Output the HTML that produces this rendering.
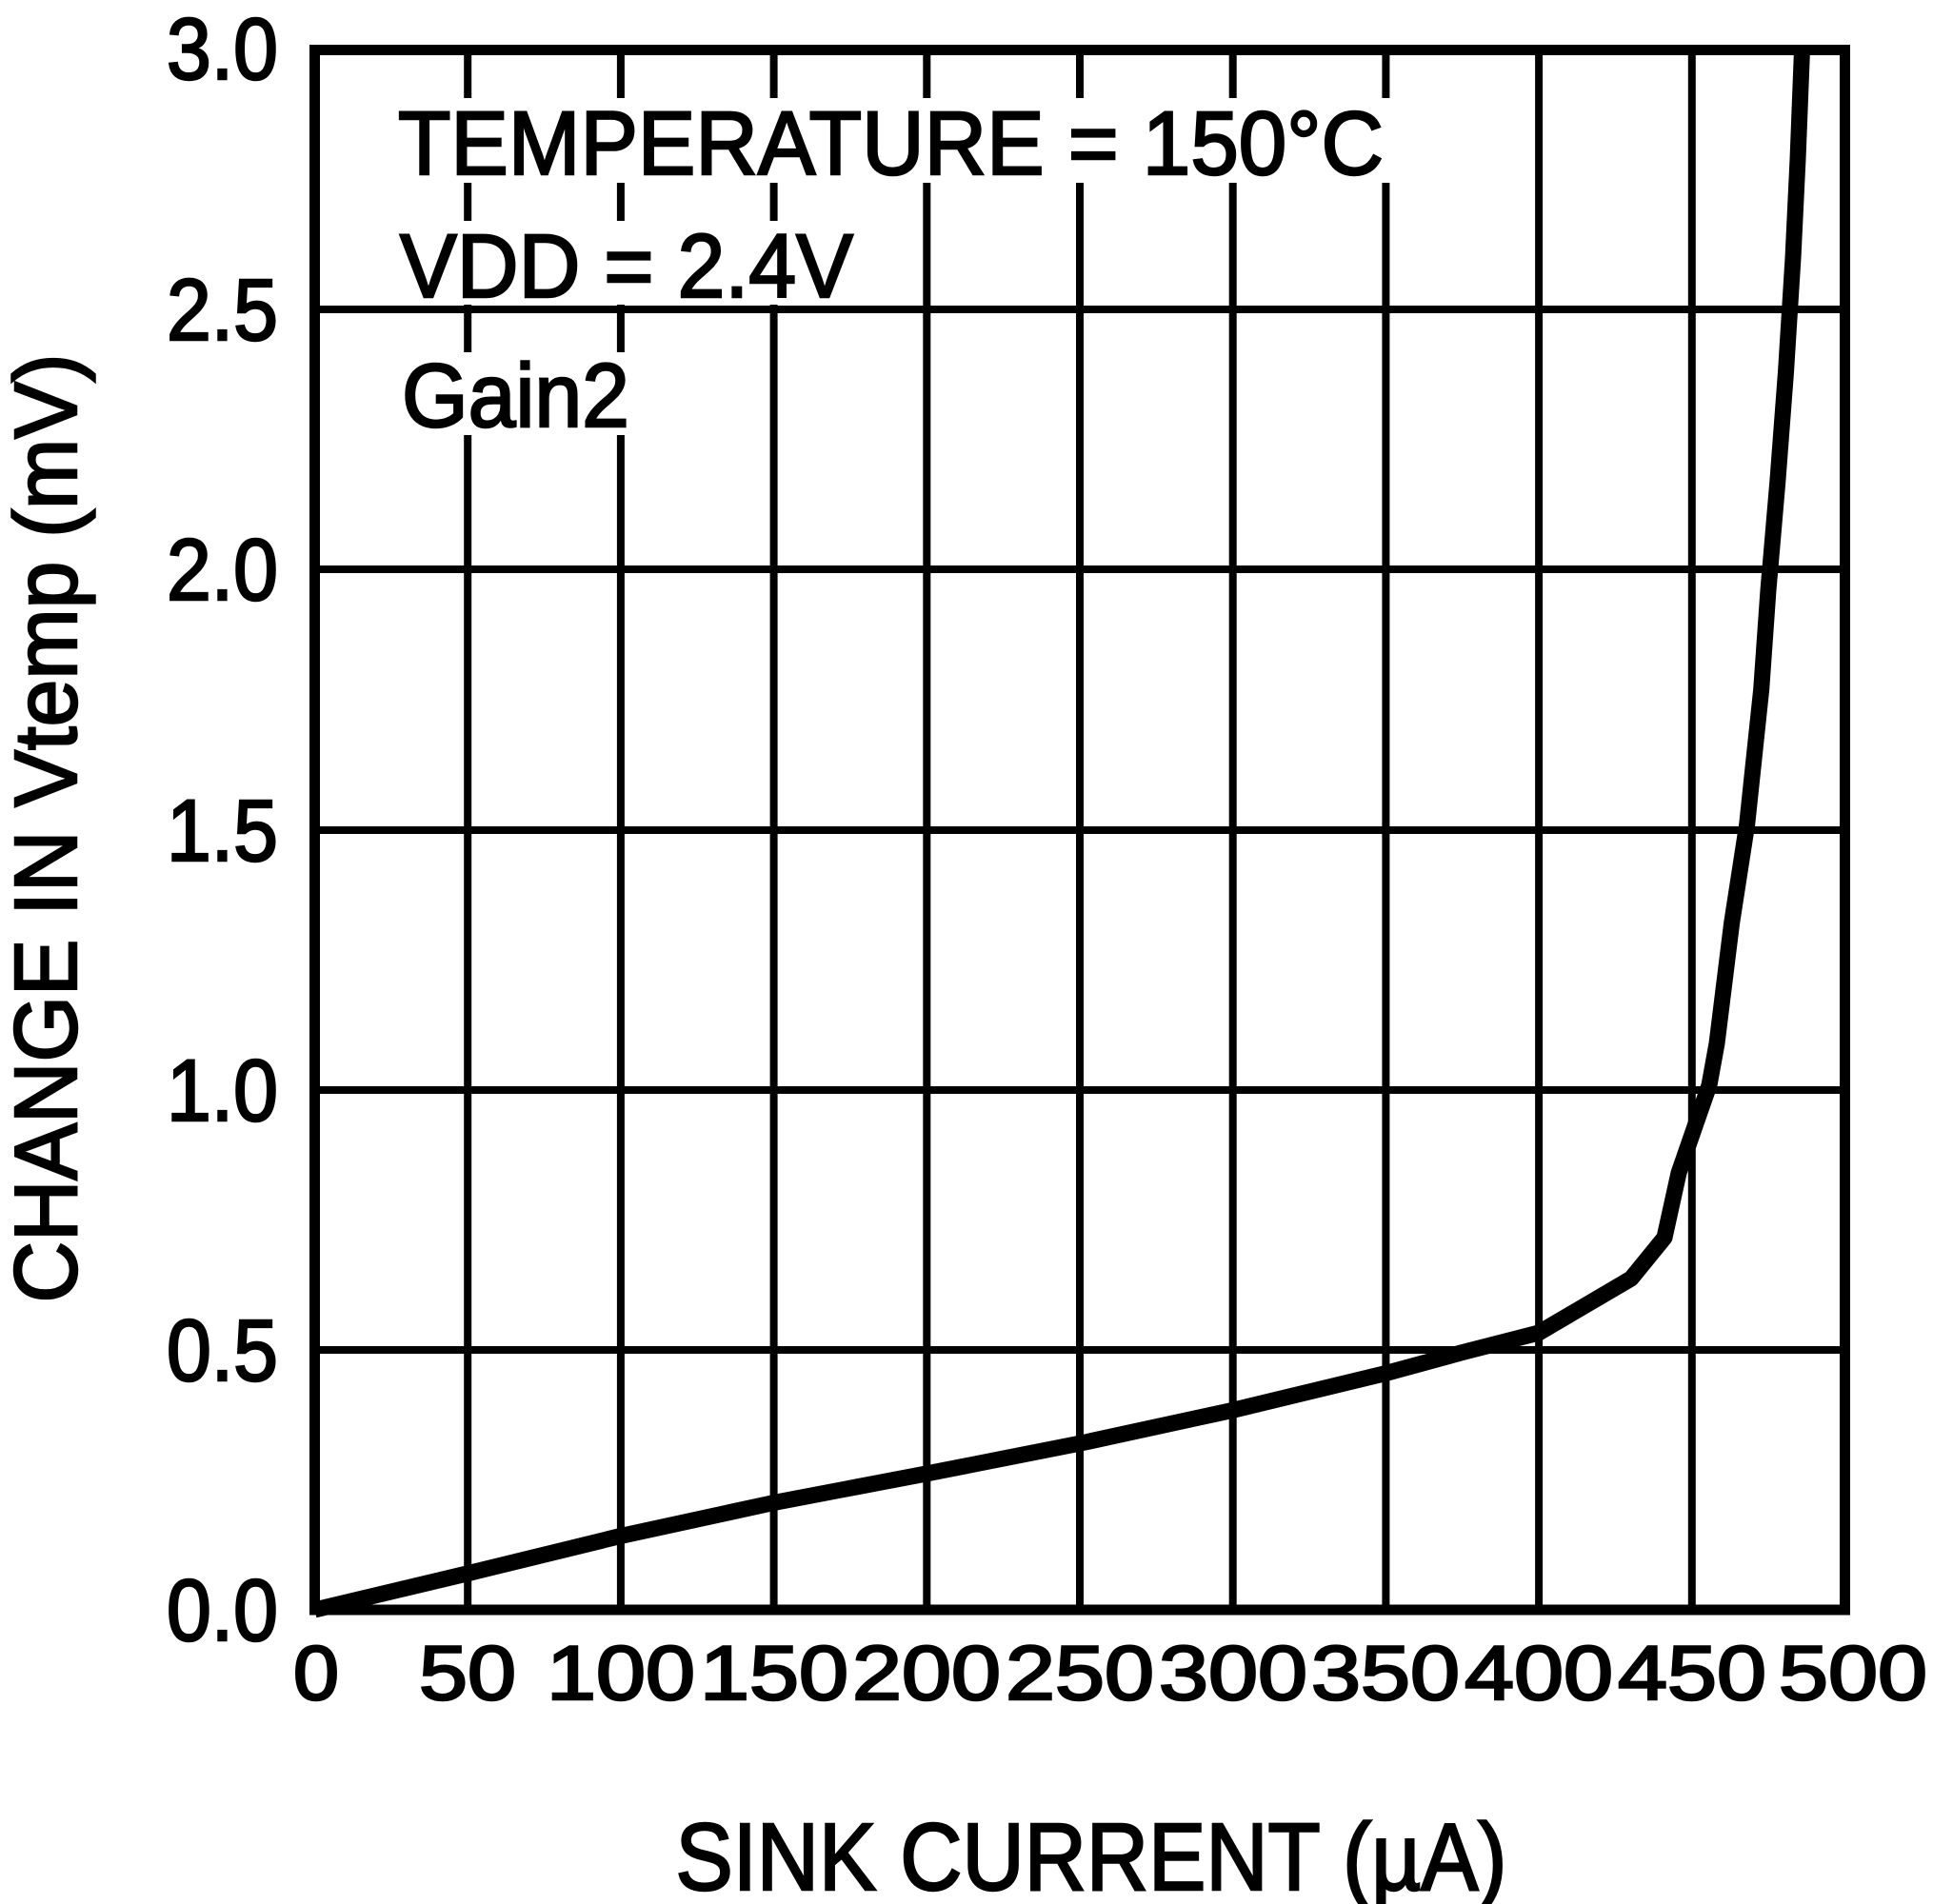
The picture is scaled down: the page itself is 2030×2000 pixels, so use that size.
<!DOCTYPE html>
<html><head><meta charset="utf-8"><style>html,body{margin:0;padding:0;background:#fff}svg{display:block}</style></head>
<body>
<svg width="2030" height="2000" viewBox="0 0 2030 2000" xmlns="http://www.w3.org/2000/svg" font-family="Liberation Sans, Arial, sans-serif">
<rect width="2030" height="2000" fill="#fff"/>
<g stroke="#000" stroke-width="8">
<line x1="491.2" y1="52" x2="491.2" y2="1691"/>
<line x1="651.9" y1="52" x2="651.9" y2="1691"/>
<line x1="812.6" y1="52" x2="812.6" y2="1691"/>
<line x1="973.3" y1="52" x2="973.3" y2="1691"/>
<line x1="1134" y1="52" x2="1134" y2="1691"/>
<line x1="1294.7" y1="52" x2="1294.7" y2="1691"/>
<line x1="1455.4" y1="52" x2="1455.4" y2="1691"/>
<line x1="1616.1" y1="52" x2="1616.1" y2="1691"/>
<line x1="1776.8" y1="52" x2="1776.8" y2="1691"/>
<line x1="330" y1="325" x2="1938" y2="325"/>
<line x1="330" y1="598" x2="1938" y2="598"/>
<line x1="330" y1="872" x2="1938" y2="872"/>
<line x1="330" y1="1145" x2="1938" y2="1145"/>
<line x1="330" y1="1418" x2="1938" y2="1418"/>
</g>
<g fill="#fff">
<rect x="410" y="103" width="1050" height="89"/>
<rect x="410" y="232" width="495" height="88"/>
<rect x="410" y="370" width="260" height="87"/>
</g>
<line x1="330" y1="325" x2="1938" y2="325" stroke="#000" stroke-width="8"/>
<rect x="330.5" y="52.5" width="1607" height="1638.5" fill="none" stroke="#000" stroke-width="11"/>
<polyline fill="none" stroke="#000" stroke-width="17" stroke-linejoin="round" points="330.5,1691 491,1652.8 652,1613.4 812.6,1578.5 973.3,1547.9 1134,1516.2 1294.7,1481.3 1455.4,1442.5 1535.8,1420.6 1616,1400 1713,1343 1748,1300 1763,1232 1780,1183 1795,1140 1803,1096 1818.6,970 1834.7,866 1849.7,724 1857,620 1866.8,506 1875.5,391 1883,271 1888,167 1892.5,52"/>
<g stroke="#000" stroke-width="2.5">
<g font-size="92" text-anchor="end">
<text x="292" y="83" textLength="117" lengthAdjust="spacingAndGlyphs">3.0</text>
<text x="292" y="357" textLength="117" lengthAdjust="spacingAndGlyphs">2.5</text>
<text x="292" y="630" textLength="117" lengthAdjust="spacingAndGlyphs">2.0</text>
<text x="292" y="904" textLength="117" lengthAdjust="spacingAndGlyphs">1.5</text>
<text x="292" y="1177" textLength="117" lengthAdjust="spacingAndGlyphs">1.0</text>
<text x="292" y="1450" textLength="117" lengthAdjust="spacingAndGlyphs">0.5</text>
<text x="292" y="1723" textLength="117" lengthAdjust="spacingAndGlyphs">0.0</text>
</g>
<g font-size="81" text-anchor="middle">
<text x="332" y="1785" textLength="48" lengthAdjust="spacingAndGlyphs">0</text>
<text x="491" y="1785" textLength="102" lengthAdjust="spacingAndGlyphs">50</text>
<text x="652" y="1785" textLength="156" lengthAdjust="spacingAndGlyphs">100</text>
<text x="813" y="1785" textLength="156" lengthAdjust="spacingAndGlyphs">150</text>
<text x="973" y="1785" textLength="156" lengthAdjust="spacingAndGlyphs">200</text>
<text x="1134" y="1785" textLength="156" lengthAdjust="spacingAndGlyphs">250</text>
<text x="1295" y="1785" textLength="156" lengthAdjust="spacingAndGlyphs">300</text>
<text x="1455" y="1785" textLength="156" lengthAdjust="spacingAndGlyphs">350</text>
<text x="1616" y="1785" textLength="156" lengthAdjust="spacingAndGlyphs">400</text>
<text x="1777" y="1785" textLength="156" lengthAdjust="spacingAndGlyphs">450</text>
<text x="1946" y="1785" textLength="156" lengthAdjust="spacingAndGlyphs">500</text>
</g>
<text x="1146" y="1985" font-size="100" text-anchor="middle" textLength="873" lengthAdjust="spacingAndGlyphs">SINK CURRENT (µA)</text>
<text transform="translate(80,870) rotate(-90)" font-size="93" text-anchor="middle" textLength="997" lengthAdjust="spacingAndGlyphs">CHANGE IN Vtemp (mV)</text>
<g font-size="95">
<text x="418" y="183" textLength="1035" lengthAdjust="spacingAndGlyphs">TEMPERATURE = 150°C</text>
<text x="420" y="312" textLength="476" lengthAdjust="spacingAndGlyphs">VDD = 2.4V</text>
<text x="422" y="448" textLength="239" lengthAdjust="spacingAndGlyphs">Gain2</text>
</g>
</g>
</svg>
</body></html>
